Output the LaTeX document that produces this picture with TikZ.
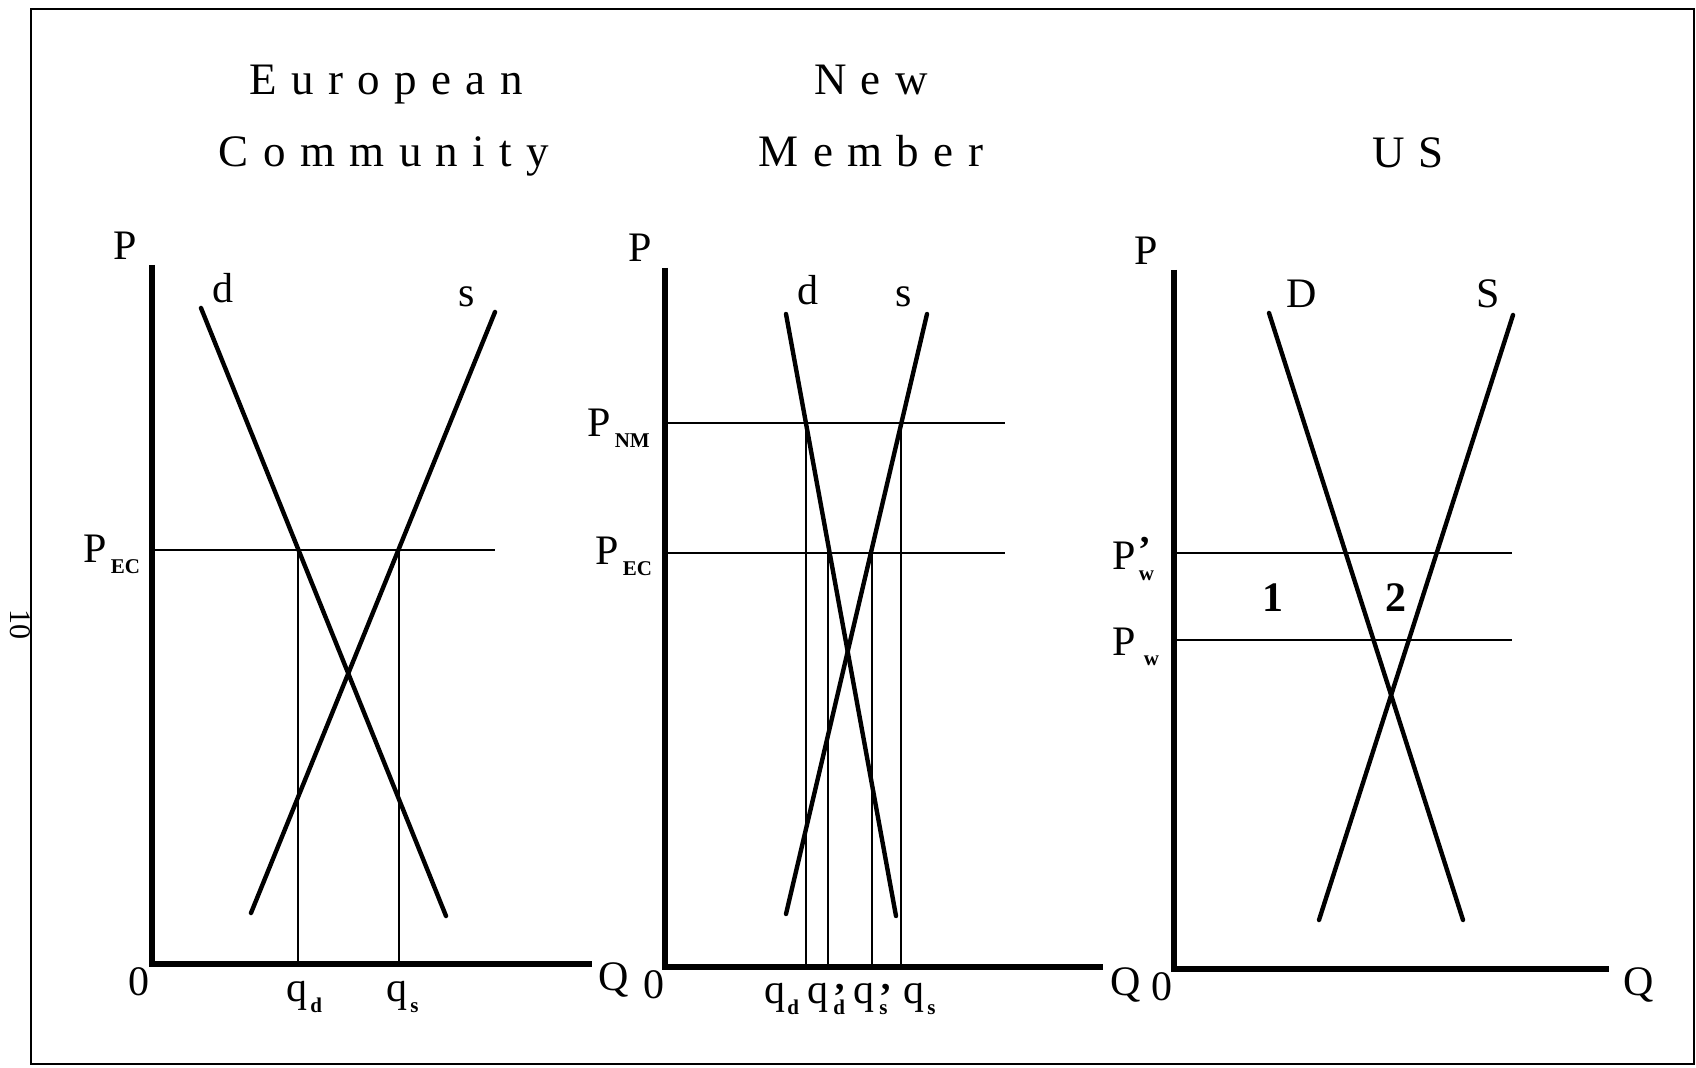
\documentclass[tikz,border=0pt]{standalone}
\usepackage{fontspec}
\setmainfont{Liberation Serif}
\newfontfamily\spaced[LetterSpace=32]{Liberation Serif}
\newcommand\sub[1]{\raisebox{-5.5pt}{\fontsize{10.5}{10.5}\selectfont\bfseries #1}}
\newcommand\prm[1]{\rlap{\raisebox{#1}{\fontsize{19}{19}\selectfont\bfseries ’}}}
\tikzset{
  outline/.style={line width=1.4pt},
  axisline/.style={line width=3.2pt, miter limit=4},
  schedule/.style={line width=2.2pt, line cap=round},
  pline/.style={line width=1.3pt},
  qline/.style={line width=1pt},
  lbl/.style={font=\fontsize{21}{21}\selectfont, inner sep=0pt, anchor=base west},
  head/.style={font=\spaced\fontsize{22.5}{27}\selectfont, inner sep=0pt, anchor=base},
}

\begin{document}
\begin{tikzpicture}[x=0.5pt,y=-0.5pt]
  \useasboundingbox (0,0) rectangle (1696,1068);
  \draw[outline] (31,9) rectangle (1694,1064);
  \node[lbl, anchor=center, rotate=-90, font=\fontsize{15}{15}\selectfont] (page) at (20,625) {10};

  % European Community
  \node[head] (ecTop) at (386,95) {European};
  \node[head] (ecBot) at (384,167) {Community};
  \draw[axisline] (152,265) |- (592,964);
  \draw[schedule] (201,308) -- (446,916);
  \draw[schedule] (251,913) -- (495,312);
  \draw[pline] (152,550) -- (495,550);
  \draw[qline] (298,550) -- (298,964);
  \draw[qline] (399,550) -- (399,964);
  \node[lbl] (ecP) at (113,260) {P};
  \node[lbl] (ecd) at (212,303) {d};
  \node[lbl] (ecs) at (458,307) {s};
  \node[lbl] (ecO) at (128,995) {0};
  \node[lbl] (ecQ) at (598,990) {Q};
  \node[lbl] (ecPec) at (83,563) {P\hspace{2pt}\sub{EC}};
  \node[lbl] (ecqd) at (286,1001) {q\hspace{1.5pt}\sub{d}};
  \node[lbl] (ecqs) at (386,1001) {q\hspace{1.5pt}\sub{s}};

  % New Member
  \node[head] (nmTop) at (871,95) {New};
  \node[head] (nmBot) at (871,167) {Member};
  \draw[axisline] (665,268) |- (1103,967);
  \draw[schedule] (786,314) -- (896,916);
  \draw[schedule] (786,914) -- (927,314);
  \draw[pline] (665,423) -- (1005,423);
  \draw[pline] (665,553) -- (1005,553);
  \draw[qline] (806,423) -- (806,967);
  \draw[qline] (828,553) -- (828,967);
  \draw[qline] (872,553) -- (872,967);
  \draw[qline] (901,423) -- (901,967);
  \node[lbl] (nmP) at (628,262) {P};
  \node[lbl] (nmd) at (797,305) {d};
  \node[lbl] (nms) at (895,307) {s};
  \node[lbl] (nmO) at (643,998) {0};
  \node[lbl] (nmQ) at (1110,995) {Q};
  \node[lbl] (nmPnm) at (587,437) {P\hspace{2pt}\sub{NM}};
  \node[lbl] (nmPec) at (595,565) {P\hspace{2pt}\sub{EC}};
  \node[lbl] (nmqd) at (764,1003) {q\hspace{1pt}\sub{d}};
  \node[lbl] (nmqdp) at (807,1003) {q\hspace{2.5pt}\prm{-3pt}\sub{d}};
  \node[lbl] (nmqsp) at (853,1003) {q\hspace{2.5pt}\prm{-3pt}\sub{s}};
  \node[lbl] (nmqs) at (903,1003) {q\hspace{1.5pt}\sub{s}};

  % US
  \node[head] (usTop) at (1408,168) {US};
  \draw[axisline] (1174,270) |- (1609,969);
  \draw[schedule] (1269,313) -- (1463,920);
  \draw[schedule] (1319,920) -- (1513,315);
  \draw[pline] (1174,553) -- (1512,553);
  \draw[pline] (1174,640) -- (1512,640);
  \node[lbl] (usP) at (1134,265) {P};
  \node[lbl] (usD) at (1286,308) {D};
  \node[lbl] (usS) at (1476,308) {S};
  \node[lbl] (usO) at (1151,1000) {0};
  \node[lbl] (usQ) at (1623,995) {Q};
  \node[lbl] (usPwp) at (1112,570) {P\hspace{1.5pt}\prm{3.5pt}\sub{w}};
  \node[lbl] (usPw) at (1112,655) {P\hspace{4pt}\sub{w}};
  \node[lbl, font=\bfseries\fontsize{21}{21}\selectfont] (usOne) at (1262,612) {1};
  \node[lbl, font=\bfseries\fontsize{21}{21}\selectfont] (usTwo) at (1385,612) {2};
\end{tikzpicture}
\end{document}
